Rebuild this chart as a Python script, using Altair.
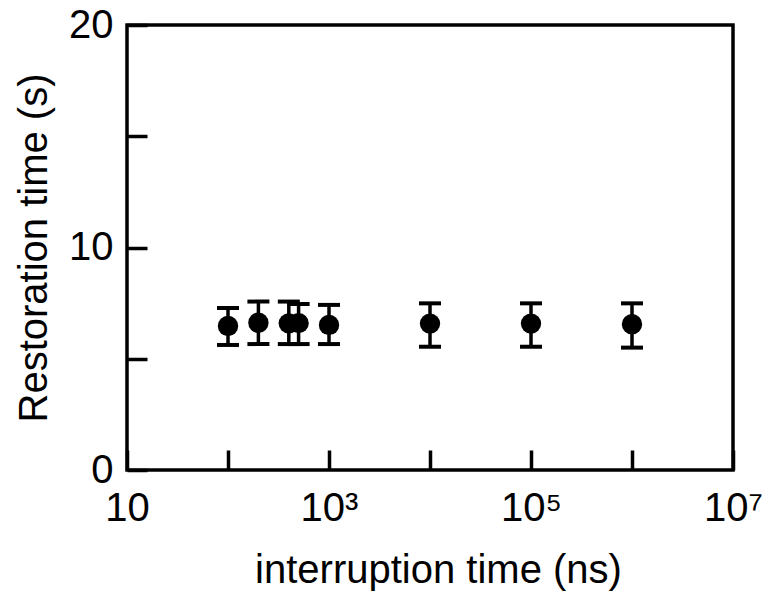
import altair as alt
import pandas as pd

# interruption time (ns)
x_vals = [100, 200, 400, 500, 1000, 1e4, 1e5, 1e6]
# restoration time (s)
y_vals = [6.47, 6.62, 6.59, 6.6, 6.52, 6.58, 6.58, 6.55]
y_lo = [5.62, 5.66, 5.66, 5.66, 5.66, 5.54, 5.54, 5.5]
y_hi = [7.28, 7.57, 7.57, 7.46, 7.42, 7.49, 7.49, 7.49]

x_ticks = [10, 100, 1000, 1e4, 1e5, 1e6, 1e7]
y_ticks = [0, 5, 10, 15, 20]

df = pd.DataFrame({"x": x_vals, "y": y_vals, "lo": y_lo, "hi": y_hi})

FONT = "Liberation Sans"

x_enc = alt.X(
    "x:Q",
    scale=alt.Scale(type="log", domain=[10, 1e7], nice=False),
    axis=alt.Axis(
        title="interruption time (ns)",
        values=x_ticks,
        labelExpr="datum.value == 10 ? '10' : datum.value == 1000 ? '10³' : datum.value == 100000 ? '10⁵' : datum.value == 10000000 ? '10⁷' : ''",
        offset=-20,
        tickSize=20,
        tickWidth=3.5,
        tickColor="black",
        domain=False,
        grid=False,
        labelFlush=False,
        labelFont=FONT,
        labelFontSize=40,
        labelColor="black",
        labelPadding=18,
        titleFont=FONT,
        titleFontSize=40,
        titleFontWeight="normal",
        titleColor="black",
        titlePadding=22,
        titleX=311,
    ),
)

y_axis = alt.Axis(
    title="Restoration time (s)",
    values=y_ticks,
    labelExpr="datum.value % 10 == 0 ? datum.label : ''",
    offset=-20,
    tickSize=20,
    tickWidth=3.5,
    tickColor="black",
    domain=False,
    grid=False,
    labelFont=FONT,
    labelFontSize=40,
    labelColor="black",
    labelPadding=14,
    titleFont=FONT,
    titleFontSize=40,
    titleFontWeight="normal",
    titleColor="black",
    titlePadding=14,
)
y_scale = alt.Scale(domain=[0, 20], nice=False)

base = alt.Chart(df)

bars = base.mark_rule(color="black", strokeWidth=3.5).encode(
    x=x_enc,
    y=alt.Y("lo:Q", scale=y_scale, axis=y_axis),
    y2="hi:Q",
)
caps_hi = base.mark_tick(color="black", orient="horizontal", size=22, thickness=4, opacity=1).encode(
    x="x:Q", y="hi:Q"
)
caps_lo = base.mark_tick(color="black", orient="horizontal", size=22, thickness=4, opacity=1).encode(
    x="x:Q", y="lo:Q"
)
points = base.mark_circle(color="black", size=415, opacity=1).encode(
    x="x:Q", y="y:Q"
)

chart = (
    alt.layer(bars, caps_hi, caps_lo, points)
    .properties(
        width=606,
        height=445,
        background="white",
        autosize=alt.AutoSizeParams(type="none"),
        padding={"left": 127, "top": 25, "right": 29, "bottom": 121},
    )
    .configure_view(stroke="black", strokeWidth=3.5)
)

chart.save("out.html", embed_options={"renderer": "svg", "actions": False})
